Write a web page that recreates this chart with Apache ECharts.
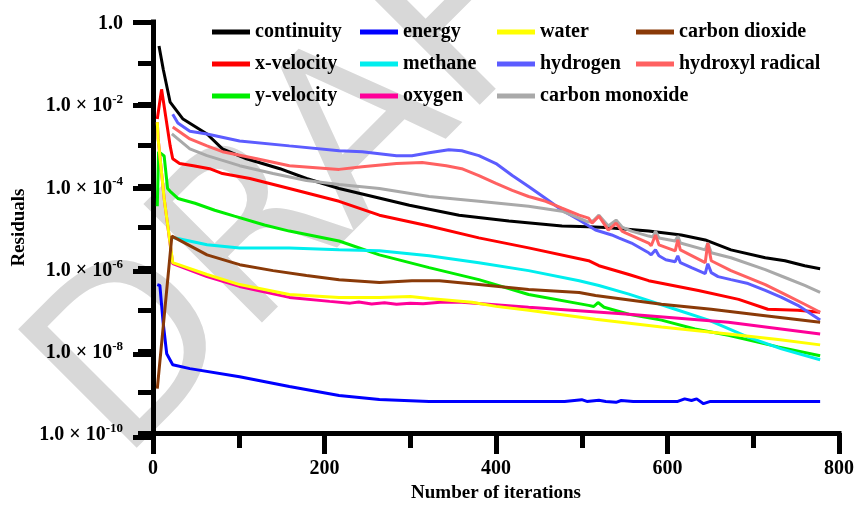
<!DOCTYPE html>
<html>
<head>
<meta charset="utf-8">
<script src="https://cdn.jsdelivr.net/npm/echarts@6/dist/echarts.min.js"></script>
<style>
  html, body { margin: 0; padding: 0; background: #ffffff; }
  #chart { width: 857px; height: 508px; }
</style>
</head>
<body>
<div id="chart"></div>
<script>
// Residual histories, [iteration, residual]
const continuity = [[7,0.26],[8,0.25],[12,0.07],[20,0.0112],[35,4.35e-3],[63,1.89e-3],[81,8.2e-4],[109,4.7e-4],[148,2.7e-4],[179,1.56e-4],[217,8.9e-5],[299,3.5e-5],[357,2.0e-5],[415,1.44e-5],[477,1.09e-5],[508,1.05e-5],[528,1.0e-5],[578,8.2e-6],[616,6.6e-6],[644,5.0e-6],[674,2.87e-6],[714,1.84e-6],[737,1.56e-6],[760,1.18e-6],[778,1.0e-6]];
const xVelocity = [[5,4.35e-3],[10,0.023],[20,9.7e-4],[23,4.7e-4],[31,3.6e-4],[47,3.2e-4],[66,2.7e-4],[81,2.06e-4],[113,1.56e-4],[159,8.9e-5],[217,4.35e-5],[264,2.0e-5],[322,1.09e-5],[380,5.6e-6],[438,3.2e-6],[508,1.56e-6],[520,1.18e-6],[555,7.2e-7],[578,5.1e-7],[636,2.95e-7],[683,1.79e-7],[717,1.03e-7],[752,9.7e-8],[778,8.7e-8]];
const yVelocity = [[5,3.3e-5],[6.5,7e-4],[13,5.5e-4],[17,8.9e-5],[20,7.6e-5],[29,5.1e-5],[49,3.9e-5],[72,2.64e-5],[95,1.89e-5],[130,1.15e-5],[159,8.2e-6],[217,4.7e-6],[264,2.17e-6],[322,1.06e-6],[380,5.4e-7],[438,2.36e-7],[508,1.28e-7],[514,1.2e-7],[519,1.5e-7],[526,1.15e-7],[555,7.8e-8],[593,5.6e-8],[632,3.4e-8],[671,2.4e-8],[729,1.25e-8],[778,7.6e-9]];
const energy = [[5,4.1e-7],[8,3.9e-7],[12,4.5e-8],[16,8.5e-9],[23,4.6e-9],[43,3.7e-9],[101,2.36e-9],[159,1.36e-9],[217,8.2e-10],[264,6.6e-10],[322,5.9e-10],[480,5.9e-10],[500,6.5e-10],[506,5.9e-10],[520,6.3e-10],[528,5.9e-10],[540,5.6e-10],[546,6.2e-10],[560,5.9e-10],[612,5.9e-10],[620,6.8e-10],[628,6.2e-10],[634,6.8e-10],[642,5.2e-10],[650,5.9e-10],[778,5.9e-10]];
const methane = [[22,5.8e-6],[63,3.8e-6],[101,3.2e-6],[159,3.2e-6],[217,2.87e-6],[264,2.72e-6],[322,2.06e-6],[380,1.4e-6],[438,8.95e-7],[497,5.1e-7],[520,3.9e-7],[555,2.4e-7],[609,1.03e-7],[648,5.6e-8],[694,2.17e-8],[733,1.12e-8],[778,6.1e-9]];
const oxygen = [[5,3.68e-3],[6,1.43e-3],[13,5.1e-5],[23,1.32e-6],[63,6.4e-7],[101,3.7e-7],[159,2.0e-7],[206,1.6e-7],[230,1.45e-7],[240,1.55e-7],[255,1.38e-7],[270,1.48e-7],[284,1.36e-7],[300,1.45e-7],[315,1.4e-7],[335,1.52e-7],[360,1.52e-7],[438,1.15e-7],[555,7.8e-8],[671,5.0e-8],[778,2.57e-8]];
const water = [[5,3.68e-3],[6,1.43e-3],[13,5.1e-5],[23,1.4e-6],[63,7.2e-7],[101,4.1e-7],[159,2.36e-7],[217,2.0e-7],[264,2.0e-7],[300,2.11e-7],[322,1.89e-7],[372,1.52e-7],[400,1.21e-7],[438,9.7e-8],[516,5.9e-8],[593,3.8e-8],[671,2.57e-8],[729,1.9e-8],[778,1.4e-8]];
const hydrogen = [[23,5.74e-3],[29,3.5e-3],[43,2.2e-3],[63,1.89e-3],[101,1.28e-3],[159,9.7e-4],[217,7.4e-4],[244,7.0e-4],[284,5.6e-4],[302,5.6e-4],[322,6.6e-4],[345,7.8e-4],[360,7.4e-4],[380,5.6e-4],[400,3.6e-4],[419,1.84e-4],[438,1.0e-4],[458,5.1e-5],[477,2.64e-5],[497,1.52e-5],[516,8.7e-6],[535,6.6e-6],[543,5.6e-6],[558,4.2e-6],[578,2.43e-6],[581,2.17e-6],[586,2.87e-6],[590,2.06e-6],[598,1.65e-6],[609,1.48e-6],[612,2.06e-6],[615,1.4e-6],[628,1.06e-6],[644,7.6e-7],[647,1.32e-6],[651,8.0e-7],[659,6.4e-7],[674,5.4e-7],[694,4.35e-7],[714,2.95e-7],[733,2.0e-7],[752,1.28e-7],[778,5.6e-8]];
const carbonMonoxide = [[22,1.89e-3],[43,8.2e-4],[63,5.6e-4],[101,3.2e-4],[140,2.06e-4],[179,1.4e-4],[217,1.12e-4],[264,8.9e-5],[322,5.7e-5],[380,4.35e-5],[438,3.3e-5],[477,2.5e-5],[508,1.35e-5],[514,1.5e-5],[520,2.0e-5],[531,1.09e-5],[540,1.52e-5],[547,1.03e-5],[558,8.2e-6],[578,6.2e-6],[583,5.9e-6],[586,8.2e-6],[590,5.6e-6],[609,4.7e-6],[612,6.2e-6],[615,4.2e-6],[644,2.87e-6],[647,4.2e-6],[651,2.43e-6],[674,1.84e-6],[714,9.5e-7],[737,6.1e-7],[760,3.9e-7],[778,2.64e-7]];
const carbonDioxide = [[5,1.21e-9],[22,6.2e-6],[63,2.17e-6],[101,1.25e-6],[140,8.95e-7],[179,6.8e-7],[217,5.4e-7],[264,4.6e-7],[302,5.1e-7],[334,5.1e-7],[380,4.1e-7],[438,3.1e-7],[497,2.64e-7],[516,2.23e-7],[593,1.36e-7],[651,1.03e-7],[709,7.4e-8],[778,5.0e-8]];
const hydroxylRadical = [[23,2.79e-3],[43,1.43e-3],[63,9.7e-4],[81,7.0e-4],[121,4.7e-4],[159,3.2e-4],[217,2.6e-4],[244,3.0e-4],[284,3.6e-4],[314,3.8e-4],[342,3.2e-4],[360,2.7e-4],[380,1.84e-4],[400,1.18e-4],[419,8.0e-5],[438,5.7e-5],[458,4.35e-5],[477,2.95e-5],[497,2.0e-5],[508,1.69e-5],[512,1.28e-5],[520,1.89e-5],[531,8.7e-6],[540,1.28e-5],[547,8.2e-6],[551,7.4e-6],[578,4.2e-6],[581,3.6e-6],[586,6.6e-6],[590,3.8e-6],[609,2.72e-6],[612,5.0e-6],[615,2.87e-6],[644,1.4e-6],[647,4.2e-6],[651,1.56e-6],[674,8.95e-7],[714,4.1e-7],[737,2.36e-7],[760,1.36e-7],[778,8.7e-8]];

// Legend columns, top to bottom
const legendColumns = [
  ['continuity', 'x-velocity', 'y-velocity'],
  ['energy', 'methane', 'oxygen'],
  ['water', 'hydrogen', 'carbon monoxide'],
  ['carbon dioxide', 'hydroxyl radical']
];
const legendLeft = [212, 360, 497, 636];

// Axis ticks
const xTicks = [0, 200, 400, 600, 800];
const yMin = 1e-10;
const yMax = 1;

const serif = '"Liberation Serif", "Times New Roman", serif';

const seriesSpec = [
  ['continuity', continuity, '#000000'],
  ['x-velocity', xVelocity, '#ff0000'],
  ['y-velocity', yVelocity, '#00ee00'],
  ['energy', energy, '#0000ff'],
  ['methane', methane, '#00eeee'],
  ['oxygen', oxygen, '#ff0099'],
  ['water', water, '#ffff00'],
  ['hydrogen', hydrogen, '#5c5cff'],
  ['carbon monoxide', carbonMonoxide, '#a9a9a9'],
  ['carbon dioxide', carbonDioxide, '#8a3a08'],
  ['hydroxyl radical', hydroxylRadical, '#ff6161']
];

const chart = echarts.init(document.getElementById('chart'), null, { renderer: 'canvas' });

const gridRect = { left: 153, right: 16, top: 22, bottom: 71 };

function yLabel(v) {
  const e = Math.round(Math.log10(v));
  if (e === 0) return '{m|1.0}';
  if (e % 2 !== 0) return '';
  return '{m|1.0 \u00d7 10}{s|' + e + '}';
}

const labelRich = {
  m: { fontFamily: serif, fontWeight: 'bold', fontSize: 20, color: '#000', lineHeight: 28, padding: [4, 0, 0, 0] },
  s: { fontFamily: serif, fontWeight: 'bold', fontSize: 13, color: '#000', lineHeight: 15, verticalAlign: 'top', padding: [3, 0, 0, 0] }
};

const option = {
  animation: false,
  backgroundColor: '#ffffff',
  textStyle: { fontFamily: serif, fontWeight: 'bold', color: '#000' },
  graphic: [{
    type: 'text',
    x: 345, y: 155,
    rotation: Math.PI / 4,
    z: -10,
    silent: true,
    style: {
      text: 'DRAFT',
      fontFamily: '"DejaVu Sans", sans-serif',
      fontSize: 230,
      fill: '#d8d8d8',
      align: 'center',
      verticalAlign: 'middle'
    }
  }],
  legend: legendColumns.map((names, i) => ({
    data: names,
    orient: 'vertical',
    left: legendLeft[i],
    top: 22,
    itemWidth: 38,
    itemHeight: 5,
    itemGap: 12,
    icon: 'rect',
    padding: 0,
    selectedMode: false,
    textStyle: { fontFamily: serif, fontWeight: 'bold', fontSize: 20, color: '#000', lineHeight: 20 }
  })),
  grid: [
    Object.assign({ containLabel: false }, gridRect),
    Object.assign({ containLabel: false }, gridRect)
  ],
  xAxis: [{
    type: 'value',
    gridIndex: 0,
    min: xTicks[0],
    max: xTicks[xTicks.length - 1],
    interval: xTicks[1] - xTicks[0],
    name: 'Number of iterations',
    nameLocation: 'middle',
    nameGap: 50,
    nameTextStyle: { fontFamily: serif, fontWeight: 'bold', fontSize: 19, color: '#000' },
    axisLine: { lineStyle: { color: '#000', width: 5, cap: 'square' } },
    axisTick: { length: 21, lineStyle: { color: '#000', width: 5 } },
    minorTick: { show: true, splitNumber: 2, length: 15, lineStyle: { color: '#000', width: 5 } },
    splitLine: { show: false },
    axisLabel: { margin: 26, fontFamily: serif, fontWeight: 'bold', fontSize: 20, color: '#000' }
  }, {
    type: 'value', gridIndex: 1, min: 0, max: 800, show: false
  }],
  yAxis: [{
    type: 'log',
    gridIndex: 0,
    logBase: 10,
    min: yMin,
    max: yMax,
    interval: 1,
    name: 'Residuals',
    nameLocation: 'middle',
    nameGap: 123,
    nameTextStyle: { fontFamily: serif, fontWeight: 'bold', fontSize: 19, color: '#000' },
    axisLine: { lineStyle: { color: '#000', width: 5, cap: 'square' } },
    axisTick: { length: 15, lineStyle: { color: '#000', width: 5 } },
    splitLine: { show: false },
    axisLabel: { margin: 30, formatter: yLabel, rich: labelRich }
  }, {
    type: 'log',
    gridIndex: 1,
    logBase: 10,
    min: yMin,
    max: yMax,
    interval: 2,
    axisLine: { show: false },
    axisTick: { length: 20, lineStyle: { color: '#000', width: 5 } },
    splitLine: { show: false },
    axisLabel: { show: false }
  }],
  series: seriesSpec.map(([name, data, color]) => ({
    name: name,
    type: 'line',
    xAxisIndex: 0,
    yAxisIndex: 0,
    data: data,
    showSymbol: false,
    symbol: 'none',
    color: color,
    lineStyle: { width: 3, color: color },
    z: 3
  }))
};

chart.setOption(option);
</script>
</body>
</html>
